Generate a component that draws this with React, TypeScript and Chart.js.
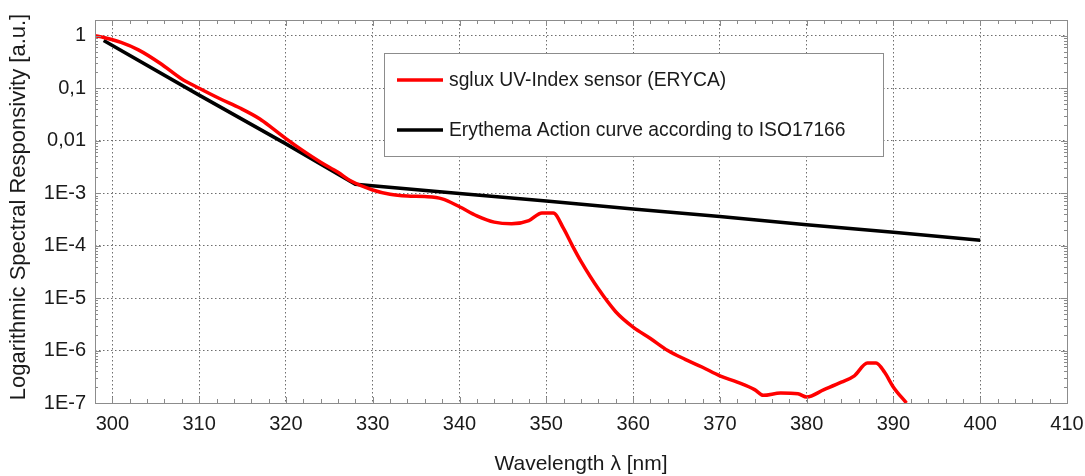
import React, { useEffect, useRef } from "react";
import { Chart, registerables } from "chart.js";

Chart.register(...registerables);

const sensorWavelengths = [
  298, 299, 301, 303, 305.5, 308, 310, 312.4, 314.7, 317, 318.5, 320, 322, 324, 326, 327.5,
  330, 332, 334, 336, 338, 340, 342, 344, 346, 348, 349.5, 350.8, 352, 353, 354, 356, 358,
  360, 362, 364, 366, 368, 370, 372, 374, 375, 377, 379, 380, 382, 384, 385.5, 387, 388,
  389, 390, 391.5,
];
const sensorValues = [
  1.0, 0.93, 0.75, 0.54, 0.3, 0.15, 0.1, 0.063, 0.042, 0.026, 0.017, 0.011,
  0.0064, 0.0039, 0.0025, 0.0017, 0.00115, 0.00095, 0.00088, 0.00086, 0.00078, 0.00055,
  0.00037, 0.00028, 0.00026, 0.0003, 0.00042, 0.00042, 0.00021, 0.0001, 0.00005, 0.000015,
  0.0000055, 0.0000028, 0.0000017, 0.000001, 0.00000068, 0.00000048, 0.00000033,
  0.00000025, 0.00000018, 0.00000014, 0.000000155, 0.00000015, 0.00000013, 0.00000018,
  0.00000025, 0.00000033, 0.00000058, 0.00000058, 0.00000038, 0.0000002, 0.0000001,
];

const erythemaWavelengths = [299, 310, 320, 328, 340, 350, 360, 370, 380, 390, 400];
const erythemaValues = [
  0.81, 0.074, 0.0087, 0.00148, 0.00099, 0.00071, 0.0005, 0.00036, 0.00025, 0.00018, 0.000126,
];

const xTickValues = [300, 310, 320, 330, 340, 350, 360, 370, 380, 390, 400, 410];
const yTickValues = [1e-7, 1e-6, 1e-5, 1e-4, 1e-3, 1e-2, 1e-1, 1];
const yTickLabels = ["1E-7", "1E-6", "1E-5", "1E-4", "1E-3", "0,01", "0,1", "1"];
const seriesLabels = [
  "sglux UV-Index sensor (ERYCA)",
  "Erythema Action curve according to ISO17166",
];
const seriesColors = ["#ff0000", "#000000"];
const xTitle = "Wavelength \u03bb [nm]";
const yTitle = "Logarithmic Spectral Responsivity [a.u.]";

const FONT = "'Liberation Sans', Arial, sans-serif";

const decorPlugin = {
  id: "decor",
  afterDraw(chart: any) {
    const ctx = chart.ctx;
    const area = chart.chartArea;
    const xs = chart.scales.x;
    const ys = chart.scales.y;
    ctx.save();

    // ticks inside the box
    ctx.strokeStyle = "#8a8a8a";
    ctx.lineWidth = 1;
    ctx.beginPath();
    for (let v = 300; v <= 410; v += 2) {
      const px = Math.round(xs.getPixelForValue(v)) + 0.5;
      const major = v % 10 === 0;
      const len = major ? 6 : 4;
      ctx.moveTo(px, area.bottom);
      ctx.lineTo(px, area.bottom - len);
      ctx.moveTo(px, area.top);
      ctx.lineTo(px, area.top + len);
    }
    ctx.stroke();

    ctx.beginPath();
    for (let e = -7; e <= 0; e++) {
      const base = Math.pow(10, e);
      for (let m = 1; m <= 9; m++) {
        const v = base * m;
        if (v > 2.0001) continue;
        const py = Math.round(ys.getPixelForValue(v)) + 0.5;
        const len = m === 1 ? 6 : 3;
        ctx.moveTo(area.left, py);
        ctx.lineTo(area.left + len, py);
        ctx.moveTo(area.right, py);
        ctx.lineTo(area.right - len, py);
      }
    }
    ctx.stroke();

    // box
    ctx.strokeStyle = "#8c8c8c";
    ctx.strokeRect(
      Math.round(area.left) + 0.5,
      Math.round(area.top) + 0.5,
      Math.round(area.right - area.left),
      Math.round(area.bottom - area.top)
    );

    // legend
    const lx = 384;
    const ly = 53;
    const lw = 499;
    const lh = 103;
    ctx.fillStyle = "#ffffff";
    ctx.fillRect(lx, ly, lw, lh);
    ctx.strokeStyle = "#8c8c8c";
    ctx.lineWidth = 1;
    ctx.strokeRect(lx + 0.5, ly + 0.5, lw, lh);
    ctx.font = `19.3px ${FONT}`;
    ctx.textBaseline = "middle";
    ctx.textAlign = "left";
    seriesLabels.forEach((label, i) => {
      const y = ly + 27 + i * 50;
      ctx.strokeStyle = seriesColors[i];
      ctx.lineWidth = 3.5;
      ctx.beginPath();
      ctx.moveTo(lx + 13, y);
      ctx.lineTo(lx + 59, y);
      ctx.stroke();
      ctx.fillStyle = "#1a1a1a";
      ctx.fillText(label, lx + 65, y + 1);
    });

    // axis titles
    ctx.fillStyle = "#1a1a1a";
    ctx.font = `21px ${FONT}`;
    ctx.textAlign = "center";
    ctx.textBaseline = "middle";
    ctx.fillText(xTitle, (area.left + area.right) / 2, 464);
    ctx.font = `22px ${FONT}`;
    ctx.translate(19, 207);
    ctx.rotate(-Math.PI / 2);
    ctx.fillText(yTitle, 0, 0);
    ctx.restore();
  },
};

export default function App() {
  const canvasRef = useRef<HTMLCanvasElement | null>(null);

  useEffect(() => {
    document.body.style.margin = "0";
    const canvas = canvasRef.current;
    if (!canvas) return;
    const gridOpts: any = {
      drawTicks: false,
      color: "#6e6e6e",
      lineWidth: 1,
    };
    const borderOpts: any = { display: false, dash: [1.5, 2.5] };
    const chart = new Chart(canvas, {
      type: "line",
      data: {
        datasets: [
          {
            label: seriesLabels[0],
            data: sensorWavelengths.map((x, i) => ({ x, y: sensorValues[i] })),
            borderColor: seriesColors[0],
            borderWidth: 3.5,
            pointRadius: 0,
            cubicInterpolationMode: "monotone",
            fill: false,
          },
          {
            label: seriesLabels[1],
            data: erythemaWavelengths.map((x, i) => ({ x, y: erythemaValues[i] })),
            borderColor: seriesColors[1],
            borderWidth: 3.5,
            pointRadius: 0,
            tension: 0,
            fill: false,
          },
        ],
      },
      options: {
        animation: false,
        responsive: false,
        events: [],
        layout: { padding: { left: 0, right: 18, top: 20, bottom: 0 } },
        plugins: {
          legend: { display: false },
          tooltip: { enabled: false },
          title: { display: false },
        },
        scales: {
          x: {
            type: "linear",
            min: 298,
            max: 410,
            afterBuildTicks: (scale: any) => {
              scale.ticks = xTickValues.map((value) => ({ value }));
            },
            afterFit: (scale: any) => {
              scale.height = 73;
              scale.paddingLeft = 0;
              scale.paddingRight = 0;
            },
            border: borderOpts,
            grid: gridOpts,
            ticks: {
              padding: 9,
              color: "#1a1a1a",
              font: { family: FONT, size: 20 },
              maxRotation: 0,
              callback: (v: any) => String(v),
            },
          },
          y: {
            type: "logarithmic",
            min: 1e-7,
            max: 2,
            afterBuildTicks: (scale: any) => {
              scale.ticks = yTickValues.map((value) => ({ value }));
            },
            afterFit: (scale: any) => {
              scale.width = 95;
              scale.paddingTop = 0;
              scale.paddingBottom = 0;
            },
            border: borderOpts,
            grid: gridOpts,
            ticks: {
              padding: 9,
              color: "#1a1a1a",
              font: { family: FONT, size: 20 },
              callback: (v: any) => {
                const idx = yTickValues.findIndex(
                  (t) => Math.abs(Math.log10(t) - Math.log10(v)) < 1e-6
                );
                return idx >= 0 ? yTickLabels[idx] : "";
              },
            },
          },
        },
      },
      plugins: [decorPlugin],
    } as any);
    return () => chart.destroy();
  }, []);

  return (
    <div style={{ position: "absolute", left: 0, top: 0, width: 1085, height: 476, background: "#fff" }}>
      <canvas ref={canvasRef} width={1085} height={476} style={{ display: "block" }} />
    </div>
  );
}
